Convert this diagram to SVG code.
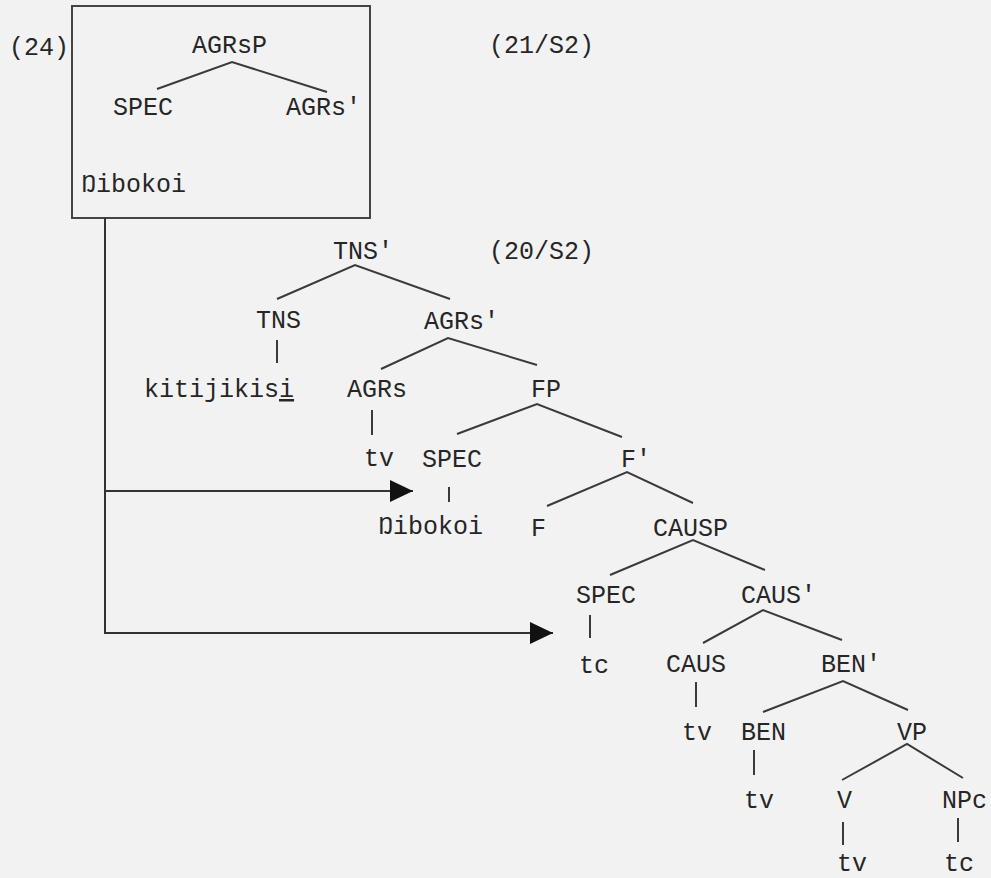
<svg xmlns="http://www.w3.org/2000/svg" width="991" height="878" viewBox="0 0 991 878">
<defs>
<style>
text{font-family:"Liberation Mono","DejaVu Sans Mono",monospace;font-size:25px;fill:#262626}
.e{stroke:#3a3a3a;stroke-width:2;fill:none}
.a{stroke:#333;stroke-width:2;fill:none}
</style>
<marker id="ah" markerUnits="userSpaceOnUse" markerWidth="24" markerHeight="24" refX="23" refY="11" orient="auto"><path d="M0,0 L23,11 L0,22 z" fill="#111"/></marker>
</defs>
<rect width="991" height="878" fill="#f2f2f2"/>
<g id="labels">
<text x="9" y="55">(24)</text>
<text x="489" y="53">(21/S2)</text>
<text x="489" y="259">(20/S2)</text>
</g>
<g id="box"><rect x="72" y="6" width="298" height="212" fill="none" stroke="#444" stroke-width="2"/></g>
<g id="n-agrsp"><text x="192" y="53">AGRsP</text></g>
<g id="n-spec1"><text x="113" y="115">SPEC</text></g>
<g id="n-agrsbar1"><text x="286" y="115">AGRs'</text></g>
<g id="n-ngibokoi1"><text x="81" y="192">Ŋibokoi</text></g>
<g id="n-tnsbar"><text x="333" y="259">TNS'</text></g>
<g id="n-tns"><text x="256" y="328">TNS</text></g>
<g id="n-agrsbar2"><text x="424" y="329">AGRs'</text></g>
<g id="n-kitijikisi"><text x="144" y="397">kitijikis<tspan text-decoration="underline">i</tspan></text></g>
<g id="n-agrs"><text x="347" y="397">AGRs</text></g>
<g id="n-fp"><text x="531" y="397">FP</text></g>
<g id="n-tv1"><text x="364" y="466">tv</text></g>
<g id="n-spec2"><text x="422" y="467">SPEC</text></g>
<g id="n-fbar"><text x="621" y="467">F'</text></g>
<g id="n-ngibokoi2"><text x="378" y="534">Ŋibokoi</text></g>
<g id="n-f"><text x="531" y="536">F</text></g>
<g id="n-causp"><text x="653" y="536">CAUSP</text></g>
<g id="n-spec3"><text x="576" y="603">SPEC</text></g>
<g id="n-causbar"><text x="741" y="603">CAUS'</text></g>
<g id="n-tc1"><text x="579" y="673">tc</text></g>
<g id="n-caus"><text x="666" y="672">CAUS</text></g>
<g id="n-benbar"><text x="821" y="672">BEN'</text></g>
<g id="n-tv2"><text x="682" y="740">tv</text></g>
<g id="n-ben"><text x="741" y="740">BEN</text></g>
<g id="n-vp"><text x="897" y="740">VP</text></g>
<g id="n-tv3"><text x="744" y="808">tv</text></g>
<g id="n-v"><text x="837" y="808">V</text></g>
<g id="n-npc"><text x="942" y="808">NPc</text></g>
<g id="n-tv4"><text x="837" y="871">tv</text></g>
<g id="n-tc2"><text x="944" y="871">tc</text></g>
<g id="connectors">
<path class="e" d="M157,89 L232,62 L327,92"/>
<path class="e" d="M277,299 L355,265 L450,299"/>
<path class="e" d="M277,340 V363"/>
<path class="e" d="M381,369 L448,338 L537,365"/>
<path class="e" d="M372,410 V435"/>
<path class="e" d="M457,434 L537,404 L622,437"/>
<path class="e" d="M449,487 V502"/>
<path class="e" d="M547,506 L627,472 L693,503"/>
<path class="e" d="M610,575 L693,540 L765,570"/>
<path class="e" d="M590,615 V638"/>
<path class="e" d="M703,643 L763,610 L842,640"/>
<path class="e" d="M696,682 V707"/>
<path class="e" d="M763,712 L843,681 L908,710"/>
<path class="e" d="M754,750 V775"/>
<path class="e" d="M842,780 L907,744 L963,778"/>
<path class="e" d="M843,822 V845"/>
<path class="e" d="M958,818 V842"/>
<path class="a" d="M105,218 V633 H553" marker-end="url(#ah)"/>
<path class="a" d="M105,491 H413" marker-end="url(#ah)"/>
</g>
</svg>
